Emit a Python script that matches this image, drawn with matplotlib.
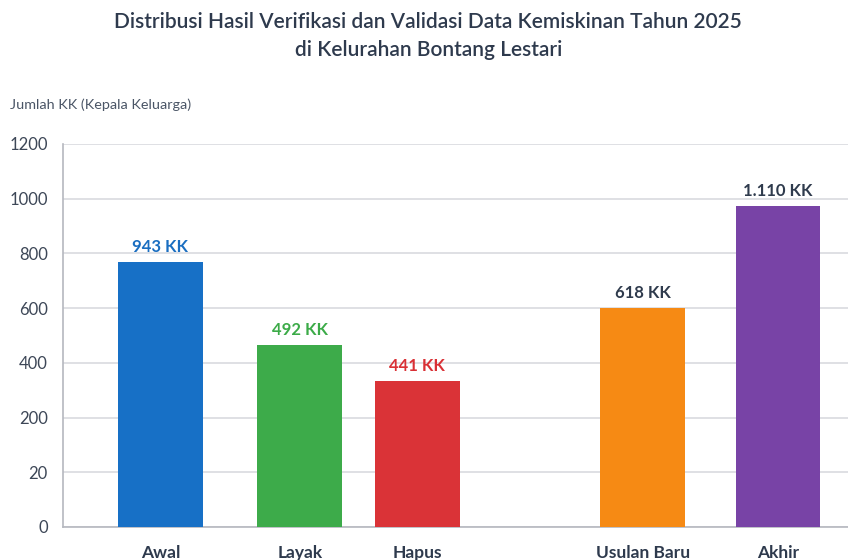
import matplotlib
matplotlib.use("Agg")
import matplotlib.pyplot as plt

# data
categories = ["Awal", "Layak", "Hapus", "Usulan Baru", "Akhir"]
bar_heights = [969, 665, 534, 800, 1173]          # drawn heights, in axis units
value_labels = ["943 KK", "492 KK", "441 KK", "618 KK", "1.110 KK"]
ytick_values = [0, 200, 400, 600, 800, 1000, 1200, 1400]
ytick_labels = ["0", "20", "200", "400", "600", "800", "1000", "1200"]

# layout / style
x_pos = [0, 1.02, 1.88, 3.53, 4.52]
bar_colors = ["#1770c6", "#3dab4a", "#da3337", "#f68a14", "#7843a6"]
label_colors = ["#1a6ec1", "#3cab48", "#d93035", "#2f3b4d", "#2f3b4d"]
text_dark = "#2e3a4d"

plt.rcParams['font.family'] = ['Lato', 'DejaVu Sans']

fig = plt.figure(figsize=(8.48, 5.6), dpi=100)
ax = fig.add_axes([0.0743, 0.059, 0.93, 0.684])

bars = ax.bar(x_pos, bar_heights, width=0.62, color=bar_colors, zorder=3)

for rect, txt, col in zip(bars, value_labels, label_colors):
    ax.annotate(txt, (rect.get_x() + rect.get_width() / 2, rect.get_height()),
                xytext=(0, 5), textcoords="offset points",
                ha="center", va="bottom", fontsize=12, fontweight="bold",
                color=col)

ax.set_ylim(0, 1400)
ax.set_xlim(-0.713, 5.06)
ax.set_yticks(ytick_values)
ax.set_yticklabels(ytick_labels)
ax.set_xticks(x_pos)
ax.set_xticklabels(categories, fontweight="bold")

ax.tick_params(axis="y", length=0, pad=11, labelsize=12, labelcolor="#3d4757")
ax.tick_params(axis="x", length=0, pad=13, labelsize=12.5, labelcolor=text_dark)

ax.grid(axis="y", color="#dcdde2", linewidth=1.3, zorder=0)
ax.set_axisbelow(True)

for side in ["top", "right"]:
    ax.spines[side].set_visible(False)
ax.spines["left"].set_color("#b5b8bf")
ax.spines["bottom"].set_color("#b5b8bf")
ax.spines["left"].set_linewidth(1.2)
ax.spines["bottom"].set_linewidth(1.2)

fig.text(0.012, 1 - 105 / 560, "Jumlah KK (Kepala Keluarga)", fontsize=10.4,
         color="#4a5566", va="center", ha="left")

fig.text(0.505, 1 - 22 / 560, "Distribusi Hasil Verifikasi dan Validasi Data Kemiskinan Tahun 2025",
         fontsize=15, color=text_dark, ha="center", va="center", fontweight="semibold")
fig.text(0.505, 1 - 50 / 560, "di Kelurahan Bontang Lestari",
         fontsize=15, color=text_dark, ha="center", va="center", fontweight="semibold")

fig.savefig("out.png", dpi=100, facecolor="white")
